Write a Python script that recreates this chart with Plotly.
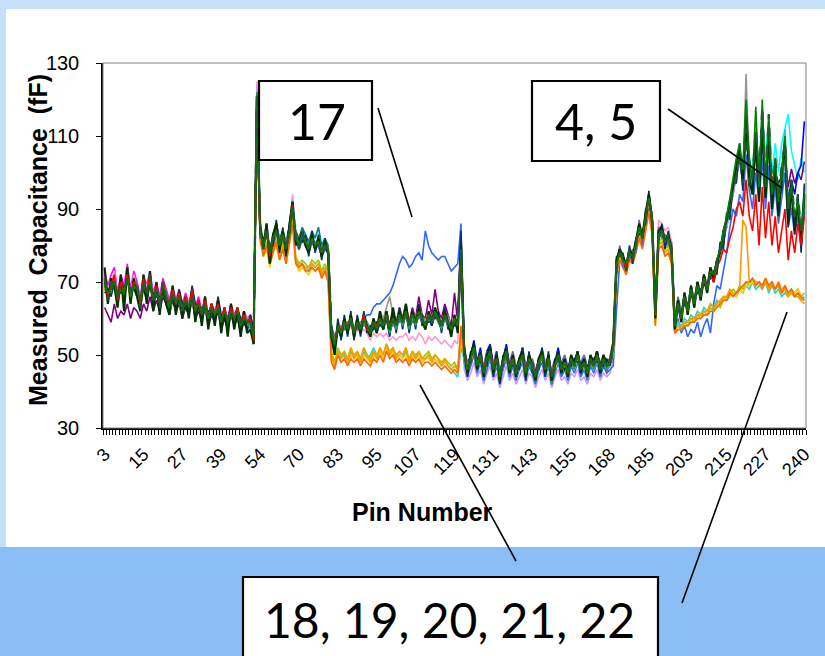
import plotly.graph_objects as go

# Pin numbers on the category axis (ground / unused pins are not measured)
PINS = (list(range(3, 40))
        + [40, 41, 42, 43, 44, 45, 47, 48, 50, 51, 53]
        + [54, 55, 56, 58, 59, 61, 62, 64, 65, 67, 68, 69]
        + [70, 71, 72, 73, 74, 75, 77, 78, 79, 80, 81, 82]
        + list(range(83, 156))
        + [156, 157, 158, 159, 160, 161, 163, 164, 165, 166, 167]
        + [168, 169, 170, 171, 173, 174, 176, 177, 179, 180, 182, 183]
        + [185, 186, 187, 189, 190, 192, 193, 195, 196, 198, 199, 201]
        + list(range(203, 228))
        + [228, 229, 230, 231, 232, 233, 235, 236, 237, 238, 239, 240])
LABEL_EVERY = 12


def series(text):
    return [int(v) for v in text.split()]


# Measured capacitance per pin (fF), one list per chip
CHIP_01 = series("""
71 68 68 72 66 70 66 73 67 71 69 65 71 66 72 66 69 63 70 67 64 68 63 67 63 66 62 68 63 65 62 64 61 64 60 65 60 63 58 62 61 61 59 60 58 59
54 119
83 81 84 78 81 86 79 84 80 83 90 83 81 82 82 80 83 79 82 79 81 78
57 54 57 57 58 58 59 57 58 58 61 57 57 58 58 61 57 62 58 59 59 60 60 61 59 62 58 63 59 59 60 60 61 61 57 62 58 58 59 59 77
51 47 50 53 46 51 46 48 52 47 50 45 49 52 47 48 46 49 51 46 50 46 45 49 51 47 48 45 48 51 45 49 46 48 48 51 45 49 46 48 48 51 47 48 46 49 53
75 79 75 75 79 76 81 86 81 89 92 86 63 84 83 82 81 80 59 65 61 65 63 67 65 68 67 70 69 72 72 76 77 83 85 91 94 101 103 99 112 101 95 109 93 113 94 111 91 101 89 99 105 89 93 87 89 83 91
""")
CHIP_02 = series("""
73 69 72 74 67 72 69 75 68 73 70 66 72 69 73 67 70 66 71 68 65 69 65 68 64 67 64 68 63 66 62 66 61 64 62 65 60 63 60 64 61 63 59 62 60 61
56 123
85 79 86 78 83 84 81 82 78 85 92 81 79 84 80 78 81 81 80 77 79 80
55 52 57 55 60 56 61 55 60 56 59 57 55 60 56 59 57 60 56 61 57 62 58 61 57 60 58 61 59 57 62 58 61 59 57 60 58 56 61 57 76
49 45 48 51 48 49 44 50 50 45 48 43 47 50 45 50 44 47 49 44 48 48 43 47 49 45 50 43 46 49 47 47 44 50 46 49 47 47 44 50 46 49 45 50 46 47 51
73 77 77 73 77 78 79 84 83 87 94 88 60 85 85 80 83 78 57 63 59 67 61 69 63 70 65 72 67 74 70 74 79 81 87 89 96 99 105 97 115 99 97 107 95 111 96 109 93 99 91 97 107 87 95 85 91 81 93
""")
CHIP_03 = series("""
69 65 70 70 64 68 68 71 65 69 67 63 69 68 70 64 67 65 68 65 62 66 65 65 61 64 64 66 61 63 60 66 59 62 62 63 58 61 60 62 59 63 57 60 60 59
56 120
83 81 84 76 81 84 81 82 80 83 90 81 81 82 80 80 81 79 80 79 79 78
57 53 59 57 58 56 61 57 58 58 59 59 55 60 58 59 59 60 58 59 57 62 58 61 59 60 60 61 61 57 60 60 61 59 59 60 58 56 61 57 79
51 45 50 51 48 49 46 48 52 45 50 45 47 52 45 50 46 47 51 44 50 46 45 47 51 45 48 45 46 51 45 49 44 50 46 51 45 49 44 50 46 51 45 50 46 49 51
73 79 75 75 77 78 79 86 81 87 92 88 62 82 85 80 83 78 59 63 61 65 63 67 65 68 67 70 67 74 70 76 77 81 87 89 96 99 103 99 113 99 97 107 95 111 94 109 93 99 91 99 105 89 95 85 91 83 91
""")
CHIP_04 = series("""
70 67 68 72 66 69 68 71 67 71 68 65 69 67 71 66 69 64 70 66 64 66 64 67 63 64 63 66 62 65 61 64 60 63 61 63 59 62 59 62 60 61 58 60 58 59
55 122
85 80 84 78 82 84 80 84 79 83 92 83 80 82 81 80 82 80 80 78 81 79
56 54 58 55 59 58 60 57 59 56 60 59 57 59 56 60 59 61 57 61 58 60 59 63 58 60 59 61 60 59 61 58 62 61 58 60 59 58 60 57 80
50 47 49 51 47 51 45 49 50 46 48 44 49 51 47 49 45 49 50 45 48 47 44 49 50 46 48 44 47 49 46 49 45 48 47 49 46 48 46 49 47 50 46 48 47 48 53
76 78 76 74 78 77 80 85 82 88 93 87 62 83 84 81 82 79 58 64 60 66 62 68 64 69 66 71 68 73 71 75 78 83 87 92 97 102 106 100 116 104 100 112 100 116 104 114 100 108 100 108 112 116 106 102 98 104 100
""")
CHIP_05 = series("""
63 61 59 64 60 62 61 64 60 63 62 60 64 62 66 62 65 62 66 64 61 65 62 64 60 63 61 65 60 62 59 63 58 61 59 62 57 60 57 61 58 60 56 59 57 58
54 118
83 79 84 77 81 84 79 82 78 83 89 81 79 82 80 78 81 79 80 77 79 78
55 52 57 56 58 57 59 56 58 57 60 58 57 59 57 61 59 62 58 62 59 63 60 64 59 63 60 66 61 60 65 61 68 62 60 64 61 58 67 59 80
51 46 50 52 46 50 46 49 50 46 48 44 49 51 46 48 45 49 50 46 49 46 44 48 51 46 49 45 47 50 45 48 45 49 48 50 46 47 45 49 47 51 46 49 46 48 52
75 78 77 74 79 77 81 84 83 88 92 87 63 84 85 81 83 79 59 65 61 67 63 69 65 70 67 72 69 74 72 76 79 83 86 91 96 101 105 99 113 102 98 110 97 108 100 104 98 100 97 99 104 96 101 97 100 98 103
""")
CHIP_06 = series("""
70 66 70 70 66 68 68 71 67 69 69 64 71 67 70 66 68 65 68 67 63 68 64 67 62 66 63 68 62 65 61 66 60 64 61 65 59 63 59 64 60 63 58 62 59 61
56 121
84 80 84 78 82 85 81 83 79 84 90 82 81 83 81 80 82 80 81 79 80 79
57 53 58 57 59 57 61 56 59 58 60 58 56 60 57 60 59 61 57 60 59 61 60 62 58 61 60 62 61 58 61 60 62 60 58 61 60 57 60 58 77
50 46 50 52 47 51 45 49 51 47 49 44 48 52 46 49 46 48 50 45 49 48 44 48 50 47 49 44 48 50 46 48 46 49 47 50 47 48 45 49 48 50 46 49 48 48 52
74 77 76 73 78 76 80 84 82 87 93 86 61 82 84 80 82 78 58 63 60 65 62 67 64 68 66 70 68 72 71 74 78 81 86 89 95 99 104 97 113 99 96 107 94 111 95 109 92 99 90 97 105 88 93 86 89 82 91
""")
CHIP_07 = series("""
69 67 68 71 64 70 66 72 65 71 67 65 69 68 70 66 67 65 68 67 62 68 63 67 61 66 62 67 61 65 60 65 59 64 60 64 58 63 58 63 59 62 57 61 58 60
55 120
85 81 86 78 83 86 82 84 81 85 90 84 82 85 83 81 84 82 85 80 82 80
55 52 57 55 58 56 59 55 58 56 59 57 55 58 56 59 57 60 56 59 57 60 58 61 57 60 58 61 59 57 60 58 61 59 57 60 58 56 59 57 76
49 45 48 51 46 49 44 48 50 45 48 43 47 50 45 48 44 47 49 44 48 46 43 47 49 45 48 43 46 49 45 47 44 48 46 49 45 47 44 48 46 49 45 48 46 47 51
75 79 77 75 79 78 81 86 83 89 94 88 62 84 85 82 83 80 59 65 61 67 63 69 65 70 67 72 69 74 72 76 79 83 87 91 96 101 105 99 115 101 97 109 95 113 96 111 93 101 91 99 107 89 95 87 91 83 93
""")
CHIP_08 = series("""
71 66 70 71 66 69 67 73 66 70 69 64 70 68 71 65 69 64 69 66 64 67 65 66 62 66 63 68 62 64 62 65 60 64 61 64 60 62 59 63 60 62 59 61 58 60
53 119
83 80 85 76 82 84 80 83 79 84 91 82 80 83 81 79 82 80 81 78 80 79
57 54 58 55 59 56 60 57 59 56 61 58 57 59 58 60 58 62 57 60 59 61 59 63 58 61 60 62 60 59 61 58 62 61 58 60 59 57 61 58 79
52 47 50 54 48 52 46 51 53 47 50 45 49 53 47 50 46 49 52 46 50 48 45 49 51 47 50 45 48 52 47 49 46 50 48 51 47 49 46 50 48 51 47 50 48 49 53
75 77 76 75 78 78 80 86 82 88 92 87 62 83 85 81 82 80 58 65 60 67 62 68 65 69 66 72 68 74 71 76 78 83 86 91 95 101 104 99 114 101 96 109 94 111 95 109 92 101 90 98 104 92 98 94 100 102 114
""")
CHIP_09 = series("""
70 65 69 72 65 70 67 72 67 70 68 63 70 67 72 65 68 64 70 65 63 67 64 67 62 65 63 66 62 64 61 64 60 63 61 63 59 62 58 63 59 62 58 60 59 59
55 122
84 79 85 77 82 85 80 83 78 84 92 82 80 82 81 78 82 80 81 77 80 78
56 53 58 56 60 57 60 56 60 57 60 58 56 59 57 60 58 61 57 61 58 61 59 62 58 61 59 62 60 58 61 59 62 60 59 61 59 57 61 58 81
49 46 50 51 47 49 45 50 51 46 48 44 48 52 46 48 45 49 50 44 49 47 45 48 49 46 50 44 47 51 46 48 44 49 47 51 46 47 45 48 47 50 45 49 47 47 51
73 78 75 74 77 77 79 85 81 88 92 87 60 83 83 81 81 79 57 64 59 66 61 68 63 69 65 71 67 73 70 75 77 82 85 90 94 100 103 98 112 100 95 108 93 112 94 110 91 100 89 98 112 88 96 86 92 80 96
""")
CHIP_13 = series("""
71 66 68 71 66 70 67 71 66 71 68 65 70 66 71 65 68 63 69 66 63 66 64 66 62 64 63 66 62 64 61 65 60 62 61 64 59 61 59 63 59 62 58 61 59 60
56 121
84 81 85 78 82 84 80 83 80 84 90 82 80 83 81 79 82 80 81 78 80 79
57 53 58 56 59 57 59 56 59 57 60 58 56 59 57 60 58 60 57 60 58 61 59 61 58 61 59 62 60 58 61 59 61 60 58 61 59 57 60 58 77
51 46 49 52 47 50 46 49 51 46 49 45 48 51 46 49 45 48 50 46 49 47 44 48 50 46 49 45 47 50 46 48 45 49 47 50 46 48 45 49 47 50 46 49 47 48 52
75 78 76 75 78 77 81 85 82 88 93 88 62 83 85 81 82 79 59 64 61 66 62 68 64 69 67 71 68 73 71 75 78 82 86 90 95 100 104 98 110 102 96 106 96 108 97 106 94 100 92 98 102 90 94 88 92 86 96
""")
CHIP_14 = series("""
72 67 70 73 65 71 67 74 66 72 68 66 70 69 71 67 68 65 69 67 63 68 64 67 62 66 63 67 63 64 62 65 61 63 61 65 59 63 59 63 61 62 58 62 59 61
57 125
85 80 84 79 82 85 81 83 80 84 94 82 81 83 81 80 82 80 81 79 80 79
56 53 57 55 58 56 58 55 57 56 57 56 54 56 55 56 55 56 54 55 54 55 55 56 54 55 54 56 55 53 55 54 55 54 53 54 53 52 54 53 74
50 47 49 52 48 50 45 49 51 47 49 44 48 51 46 49 45 48 50 46 49 47 44 48 50 46 49 44 47 50 46 48 45 49 47 50 46 48 45 49 47 50 46 49 47 48 52
76 79 77 75 79 78 82 86 84 89 94 88 63 87 86 84 85 81 60 65 61 67 63 69 65 70 67 72 69 74 72 76 79 83 87 91 96 101 105 99 116 101 97 109 95 113 96 111 93 101 91 99 107 89 95 87 91 83 93
""")
CHIP_15 = series("""
69 66 69 70 66 69 66 71 66 70 67 64 70 66 70 65 67 64 68 66 62 66 64 65 62 64 62 66 61 64 60 64 59 63 60 64 58 62 58 62 59 61 57 61 58 59
55 124
84 80 85 78 82 85 80 83 79 84 93 82 80 83 81 79 82 80 81 78 80 79
56 53 58 56 58 57 59 56 59 57 59 58 56 59 57 59 58 60 57 60 58 60 59 61 58 60 59 61 60 58 60 59 61 60 58 60 59 57 60 58 75
46 43 45 48 44 46 42 45 47 43 45 41 44 47 43 45 42 44 46 42 45 44 41 44 46 43 45 41 44 46 43 44 42 45 44 46 43 44 42 45 44 46 43 45 44 45 49
73 77 75 73 77 76 79 84 81 87 92 86 60 82 83 80 81 78 57 63 59 65 61 67 63 68 65 70 67 72 70 74 77 81 85 89 94 99 103 97 113 99 95 107 93 111 94 109 91 99 89 97 105 87 93 85 89 81 91
""")
CHIP_16 = series("""
68 65 68 70 64 68 66 70 65 69 67 63 69 66 70 64 67 63 68 65 62 66 63 65 61 64 62 66 61 63 60 64 59 62 60 63 58 61 58 62 59 61 57 60 58 59
55 120
83 79 84 77 81 84 79 82 78 83 90 81 79 82 80 78 81 79 80 77 79 78
57 54 59 57 60 58 61 57 60 58 61 59 57 60 58 61 59 62 58 61 59 62 60 63 59 62 60 63 61 59 62 60 63 61 59 62 60 58 61 59 79
50 47 49 51 47 51 45 49 50 46 50 44 49 51 46 48 45 48 51 45 49 47 45 48 50 47 49 44 48 50 46 49 45 49 47 49 46 48 46 49 47 50 47 49 47 49 52
75 79 77 75 79 78 81 84 83 87 92 86 62 82 85 80 83 78 59 63 61 65 63 67 65 68 67 70 69 72 72 74 79 81 87 89 96 99 105 97 115 99 97 107 95 111 96 109 93 99 91 97 107 87 95 85 91 81 93
""")
CHIP_17 = series("""
69 66 68 71 65 68 66 72 66 69 67 64 69 66 70 65 67 63 68 65 62 66 63 65 61 64 62 66 61 63 60 64 59 62 60 63 58 61 58 62 59 61 57 60 57 58
53 119
83 79 84 76 81 84 79 82 78 83 90 81 79 82 80 78 81 79 80 77 79 78
56 54 58 56 59 57 60 57 59 58 60 61 61 63 64 64 65 66 67 69 72 75 77 76 74 75 77 78 76 84 80 78 77 76 77 77 75 73 74 75 86
48 44 47 50 45 48 43 46 49 44 47 42 46 49 44 47 43 46 48 43 47 45 42 46 48 44 47 42 45 48 44 46 43 47 45 48 44 46 43 47 45 48 44 47 45 46 47
62 76 75 73 77 76 79 84 81 87 92 86 60 82 83 80 81 78 57 60 56 58 55 57 56 59 55 58 60 56 64 69 68 73 78 85 90 88 94 92 105 95 90 100 92 104 90 102 88 96 86 93 100 85 90 83 88 80 90
""")
CHIP_18 = series("""
70 66 69 70 65 69 67 71 66 70 68 64 69 67 70 65 68 64 68 66 63 66 64 66 62 64 63 66 62 64 61 64 60 63 61 63 59 62 59 62 60 61 58 60 58 59
54 117
82 78 80 75 79 81 77 80 76 81 87 76 74 75 74 73 75 74 75 72 74 71
50 47 51 49 50 48 51 49 50 48 51 49 50 52 50 51 49 52 50 51 49 50 49 51 48 50 49 50 48 49 50 48 49 48 47 48 47 46 45 44 52
49 45 48 51 46 49 44 48 50 45 48 43 47 50 45 48 44 47 49 44 48 46 43 47 49 45 48 43 46 49 45 47 44 48 46 49 45 47 44 48 46 49 45 48 46 47 51
73 77 75 73 77 76 79 83 80 85 90 84 60 80 81 78 79 76 57 59 58 60 59 61 60 62 61 63 62 64 63 65 64 66 65 66 67 66 68 67 69 68 70 68 69 68 70 67 69 67 68 66 67 66 67 66 67 65 66
""")
CHIP_19 = series("""
71 67 69 71 66 69 68 72 67 70 68 65 70 67 71 66 68 64 69 66 64 67 64 67 62 65 63 67 62 65 61 65 60 63 61 64 59 62 59 63 60 62 58 61 59 59
55 118
83 78 81 76 80 82 78 81 77 82 88 77 75 76 75 74 76 75 76 73 75 73
51 48 52 50 51 49 52 50 51 49 52 50 49 51 50 52 50 53 51 52 50 51 50 52 49 51 50 51 49 50 51 49 50 49 48 49 48 47 48 46 54
50 46 49 52 47 50 45 49 51 46 49 44 48 51 46 49 45 48 50 45 49 47 44 48 50 46 49 44 47 50 46 48 45 49 47 50 46 48 45 49 47 50 46 49 47 48 51
74 77 76 74 77 77 79 84 81 86 91 85 59 81 82 79 80 77 56 58 57 59 58 60 59 61 60 62 61 63 62 64 63 65 66 67 68 67 69 68 70 69 71 69 70 68 71 68 70 68 69 67 68 66 68 67 68 66 67
""")
CHIP_20 = series("""
69 65 68 70 64 68 66 71 65 69 67 63 69 66 70 64 67 63 68 65 62 66 63 65 61 64 62 66 61 63 60 64 59 62 60 63 58 61 58 62 59 61 57 60 58 58
54 116
81 77 79 74 78 80 76 79 75 80 86 75 73 74 73 72 74 73 74 71 73 70
49 47 50 48 49 48 50 49 50 48 50 49 48 50 49 51 49 52 50 51 49 50 49 50 48 50 49 50 48 49 49 48 49 48 47 48 47 46 46 45 55
49 46 48 51 47 49 45 48 50 46 48 44 47 50 46 48 45 47 49 45 48 47 44 47 49 46 48 44 46 49 46 47 45 48 47 49 46 47 45 48 47 49 46 48 47 47 50
72 76 74 72 76 75 78 82 80 85 89 83 58 79 80 77 78 75 56 57 57 58 58 59 59 60 60 61 61 62 62 63 64 65 66 66 67 66 68 67 69 69 70 69 70 69 71 69 70 68 70 68 69 67 68 67 68 66 65
""")
CHIP_21 = series("""
69 66 70 70 66 68 67 71 67 69 68 65 69 67 70 66 67 64 68 67 63 66 65 65 62 64 63 66 62 63 61 64 60 62 61 63 59 61 59 62 60 61 58 60 59 59
55 119
82 78 80 76 79 81 77 80 76 81 87 76 75 75 74 74 75 74 75 72 74 72
50 47 51 49 51 48 52 49 51 48 52 50 48 51 49 52 50 53 50 52 49 51 50 52 48 51 49 51 49 49 50 48 50 49 47 49 47 46 47 46 57
50 46 49 52 47 50 45 49 51 46 49 44 48 51 46 49 45 48 50 45 49 47 44 48 50 46 49 44 47 50 46 48 45 49 47 50 46 48 45 49 47 50 46 49 47 48 52
73 77 75 73 77 76 79 83 80 86 90 84 59 80 81 78 79 76 57 58 58 59 59 60 60 61 61 62 62 64 63 64 65 66 66 68 67 67 68 87 85 70 71 70 70 68 70 68 69 68 69 67 68 66 67 66 66 65 64
""")
CHIP_22 = series("""
70 66 68 71 65 69 66 72 66 70 67 64 70 66 71 65 67 64 69 65 63 67 63 66 62 65 62 67 62 64 60 65 60 63 60 64 59 62 58 63 59 62 58 61 58 59
53 118
82 77 80 75 78 81 76 79 75 80 86 75 74 75 73 73 74 73 74 71 73 70
48 46 50 48 49 47 49 48 49 47 49 48 47 49 48 50 48 51 49 50 48 49 48 49 47 49 48 49 47 48 48 47 48 47 46 47 46 45 46 45 58
49 46 49 51 47 50 45 48 51 46 49 44 48 50 46 49 45 48 50 45 48 47 44 48 50 46 49 44 47 50 46 48 45 48 47 50 46 48 45 49 47 50 46 49 47 48 51
72 76 74 72 76 75 78 82 79 84 89 83 58 79 80 77 78 75 56 57 57 58 58 59 59 60 60 61 61 62 62 63 64 65 65 67 66 67 68 69 70 70 71 69 70 69 71 69 70 68 70 67 69 67 68 66 67 66 65
""")
CHIP_23 = series("""
68 67 70 69 67 70 65 71 68 69 70 63 68 68 69 67 66 65 67 68 64 65 66 64 63 63 64 65 63 62 62 63 61 62 62 62 60 61 60 61 61 60 59 59 60 58
56 118
82 82 83 79 80 83 82 81 81 82 89 83 82 81 82 80 81 81 80 80 79 80
58 55 57 58 57 59 58 58 57 59 58 59 57 58 59 58 60 59 59 58 60 59 61 60 60 59 61 60 61 59 60 61 60 61 59 60 61 58 59 60 82
52 48 47 53 49 48 47 51 49 48 51 46 47 49 48 51 47 46 52 47 47 49 46 46 52 48 47 46 49 48 48 50 47 47 49 48 48 50 47 47 49 48 48 50 45 50 54
72 80 74 76 76 79 78 87 80 90 90 89 64 85 82 83 80 81 60 66 62 64 64 66 66 67 68 69 70 71 73 73 80 80 88 88 97 98 106 96 110 103 94 111 92 115 92 113 90 103 87 101 103 91 90 89 87 86 89
""")
CHIP_24 = series("""
71 66 70 71 65 70 67 72 67 70 69 64 70 68 71 66 68 65 69 66 64 67 64 67 62 65 64 67 62 65 61 65 61 63 61 64 60 62 59 63 61 62 58 61 60 60
56 120
84 81 84 77 83 85 81 83 80 84 90 82 81 83 82 79 82 81 81 79 80 79
57 54 58 57 60 58 61 57 60 58 61 59 57 60 58 62 60 63 66 61 59 62 60 62 59 62 60 62 60 59 61 60 62 60 59 61 60 58 60 59 79
50 47 49 51 47 50 46 49 50 46 49 45 48 51 47 49 45 48 50 46 49 47 45 48 50 46 49 45 47 50 46 48 45 49 47 50 46 48 45 49 47 50 46 49 47 48 52
75 78 77 74 78 78 80 85 83 88 93 88 62 84 84 82 82 80 59 64 61 66 63 68 65 69 67 71 69 73 72 75 79 82 87 90 96 100 105 98 127 100 97 108 95 112 96 110 93 100 91 98 106 89 94 87 90 83 92
""")
CHIP_25 = series("""
67 68 66 70 67 67 69 70 68 68 66 66 68 65 69 67 66 66 67 64 65 65 62 68 64 63 61 69 64 63 63 63 62 62 59 66 61 60 57 64 58 63 60 59 57 61
57 122
83 82 83 80 80 87 78 85 77 86 92 80 82 81 83 77 84 78 83 76 82 77
58 51 60 54 61 55 62 54 61 55 62 56 58 57 59 58 59 60 55 62 56 63 57 63 56 62 57 64 58 59 59 60 60 62 56 63 57 59 58 60 84
53 44 51 50 49 48 47 47 53 44 51 42 50 49 48 47 47 46 52 43 51 45 46 46 52 44 51 42 49 48 48 46 47 47 49 48 48 47 47 48 49 48 48 47 49 47 54
77 77 78 73 80 75 82 83 84 86 95 85 63 82 86 79 84 77 60 62 62 64 64 66 66 67 68 69 70 71 73 72 81 79 89 87 98 97 108 95 118 97 99 105 97 109 98 107 95 97 93 95 109 85 98 83 94 78 97
""")
CHIP_26 = series("""
69 66 68 72 64 70 66 73 65 71 67 64 69 67 70 65 67 63 68 66 62 68 63 66 61 65 62 67 61 64 60 65 59 63 60 64 58 62 58 63 59 62 57 61 58 59
54 122
85 80 85 78 83 85 80 84 79 84 91 83 80 84 81 80 83 80 82 78 81 79
55 52 57 56 58 57 59 56 58 57 59 58 55 59 56 60 57 61 56 60 57 61 58 62 57 61 58 62 59 58 60 59 61 60 57 61 58 57 59 58 78
49 45 49 51 46 50 44 49 50 45 49 43 48 50 45 49 44 48 49 44 49 46 43 48 49 45 49 42 47 49 45 48 44 49 46 50 45 48 44 49 46 50 45 49 46 48 51
74 79 76 75 78 78 80 86 82 89 93 88 61 84 84 82 82 80 58 65 60 67 62 69 64 70 66 72 68 74 71 76 78 83 86 91 95 101 104 99 112 101 96 109 94 113 95 111 92 101 90 99 106 89 94 87 90 83 92
""")
CHIP_27 = series("""
74 64 71 69 63 72 62 74 64 71 66 62 72 64 73 62 70 61 70 64 61 69 61 67 60 66 60 68 59 65 58 66 57 64 58 65 56 63 55 64 57 62 55 62 56 57
53 121
86 79 86 75 83 86 79 84 78 85 92 81 80 84 80 78 83 79 82 77 81 78
55 50 58 55 60 56 61 55 60 56 61 58 55 60 56 62 57 62 57 63 58 62 59 64 58 62 59 63 60 57 62 59 63 60 58 62 59 55 61 56 80
51 45 50 53 46 51 44 50 52 45 50 43 49 52 45 50 44 49 51 44 50 47 43 49 51 45 50 43 47 51 45 49 44 50 47 51 45 49 44 50 47 51 45 50 47 48 53
76 79 77 74 79 77 81 86 82 89 94 87 60 84 85 81 83 79 57 65 59 67 61 69 63 70 65 72 67 74 70 76 78 84 87 92 96 102 106 98 115 98 94 110 92 114 93 112 90 102 88 100 108 86 96 84 92 80 94
""")
CHIP_35 = series("""
70 66 69 72 65 70 67 72 66 70 69 64 71 67 72 65 69 64 70 66 64 68 64 67 62 66 63 68 62 65 61 65 60 64 61 64 59 63 59 63 60 63 58 61 59 60
54 120
84 80 84 77 82 84 80 83 79 83 91 82 80 83 81 79 82 80 81 78 80 79
57 53 58 57 59 58 60 56 59 57 61 57 56 59 58 60 58 61 58 60 58 61 59 62 59 61 59 62 60 58 61 59 61 60 58 61 59 57 60 58 77
51 46 49 52 47 50 46 49 51 47 49 44 48 51 47 49 45 48 50 46 49 47 45 48 50 46 49 45 47 50 46 48 45 49 47 50 46 48 45 49 47 50 46 49 47 48 52
75 78 76 74 78 77 80 85 82 88 93 87 61 83 84 81 82 79 58 64 60 66 62 68 64 69 66 71 68 72 70 74 76 79 78 82 85 90 92 88 98 88 84 94 80 96 82 92 80 88 78 84 90 76 84 78 86 80 88
""")
CHIP_41 = series("""
69 67 68 70 66 68 67 71 66 69 68 65 69 67 70 65 68 64 69 66 63 67 64 66 62 65 63 66 62 64 61 64 60 63 61 63 59 62 59 62 60 62 58 60 59 59
55 121
84 80 84 78 82 84 80 83 79 84 90 82 80 83 81 79 82 80 81 78 80 79
56 53 58 56 59 57 60 56 59 57 60 58 56 59 57 60 58 61 57 60 58 61 59 62 58 61 59 62 60 58 61 59 62 60 58 61 59 57 60 58 78
50 46 49 52 47 50 45 49 51 46 49 44 48 51 46 49 45 48 50 45 49 47 44 48 50 46 49 44 47 50 46 48 45 49 47 50 46 48 45 49 47 50 46 49 47 48 52
75 78 76 75 78 77 80 85 82 88 93 87 61 83 84 81 82 79 58 64 60 66 62 68 64 69 66 71 68 73 72 76 79 84 88 93 99 104 108 101 120 104 98 118 96 120 97 116 94 104 92 100 110 90 96 88 92 84 94
""")
CHIP_59 = series("""
71 65 70 70 66 68 68 71 67 69 69 63 71 66 72 64 69 63 70 65 64 66 65 65 63 64 64 66 63 63 62 64 61 62 62 63 60 61 60 62 61 61 59 60 60 59
55 120
85 79 84 78 83 84 81 82 80 83 91 83 79 84 80 80 81 81 80 79 79 80
57 54 57 57 58 58 59 57 58 58 59 59 57 58 58 59 59 60 58 59 59 60 60 61 59 60 60 61 61 59 60 60 61 61 59 60 60 58 59 59 79
49 47 48 51 48 49 46 48 50 47 48 45 47 50 47 48 46 47 49 46 48 48 45 47 49 47 48 45 46 49 47 47 46 48 48 49 47 47 46 48 48 49 47 48 48 47 51
74 78 77 73 79 76 81 84 83 87 92 88 62 82 85 80 83 78 59 63 61 65 63 67 65 68 67 70 69 72 72 74 79 81 87 89 96 99 105 97 112 96 99 112 98 118 96 116 96 104 94 102 108 90 98 88 94 84 90
""")

CHIPS = {
    1: CHIP_01, 2: CHIP_02, 3: CHIP_03, 4: CHIP_04, 5: CHIP_05, 6: CHIP_06,
    7: CHIP_07, 8: CHIP_08, 9: CHIP_09, 13: CHIP_13, 14: CHIP_14, 15: CHIP_15,
    16: CHIP_16, 17: CHIP_17, 18: CHIP_18, 19: CHIP_19, 20: CHIP_20,
    21: CHIP_21, 22: CHIP_22, 23: CHIP_23, 24: CHIP_24, 25: CHIP_25,
    26: CHIP_26, 27: CHIP_27, 35: CHIP_35, 41: CHIP_41, 59: CHIP_59,
}

COLORS = {
    1: "#000080", 2: "#FF00FF", 3: "#FFFF00", 4: "#00FFFF", 5: "#800080",
    6: "#800000", 7: "#008080", 8: "#0000FF", 9: "#00CCFF", 13: "#99CCFF",
    14: "#FF99CC", 15: "#CC99FF", 16: "#FFCC99", 17: "#3366FF",
    18: "#33CCCC", 19: "#99CC00", 20: "#FFCC00", 21: "#FF9900",
    22: "#FF6600", 23: "#666699", 24: "#969696", 25: "#003366",
    26: "#339966", 27: "#003300", 35: "#FF0000", 41: "#008000",
    59: "#1E5B2E",
}
LINE_WIDTH = {27: 2.2, 59: 2.2}
LINE_DASH = {59: "dash"}

# Page geometry (pixels) of the plotting area
W, H = 825, 656
PL, PR, PT, PB = 103, 806, 63, 428


def fx(x):
    return (x - PL) / (PR - PL)


def fy(y):
    return (PB - y) / (PB - PT)


xcats = [str(p) for p in PINS]
ticktext = [str(p) if i % LABEL_EVERY == 0 else "" for i, p in enumerate(PINS)]

fig = go.Figure()
for chip, vals in CHIPS.items():
    assert len(vals) == len(PINS), (chip, len(vals))
    fig.add_trace(go.Scatter(
        x=xcats, y=vals, mode="lines", name=f"Chip {chip}",
        line=dict(color=COLORS[chip], width=LINE_WIDTH.get(chip, 1.6),
                  dash=LINE_DASH.get(chip, "solid")),
        showlegend=False, hoverinfo="skip",
    ))

AX_FONT = dict(family="Arial, Liberation Sans, sans-serif", color="black")

fig.update_xaxes(
    type="category", range=[-0.5, len(PINS) - 0.5],
    tickmode="array", tickvals=xcats, ticktext=ticktext, tickson="boundaries",
    ticks="outside", ticklen=5, tickwidth=1, tickcolor="black",
    tickangle=-45, tickfont=dict(size=18, **AX_FONT), ticklabelstandoff=7,
    showline=True, linecolor="black", linewidth=1.5,
    showgrid=False, zeroline=False,
)
fig.update_yaxes(
    range=[30, 130], tick0=30, dtick=20,
    ticks="outside", ticklen=5, tickwidth=1, tickcolor="black",
    tickfont=dict(size=20, **AX_FONT), ticklabelstandoff=13,
    showline=True, linecolor="black", linewidth=1.5,
    showgrid=False, zeroline=False,
)

shapes = [
    # slide background: light strip, white panel
    dict(type="rect", xref="paper", yref="paper", layer="below",
         x0=fx(0), x1=fx(W), y0=fy(547), y1=fy(0),
         fillcolor="#C6E0FA", line=dict(width=0)),
    dict(type="rect", xref="paper", yref="paper", layer="below",
         x0=fx(6), x1=fx(W), y0=fy(547), y1=fy(9),
         fillcolor="white", line=dict(width=0)),
    # plot frame
    dict(type="rect", xref="paper", yref="paper", layer="above",
         x0=0, x1=1, y0=0, y1=1, line=dict(color="#808080", width=1)),
]

# callout boxes and pointer lines
BOXES = [(259, 81, 372, 160), (532, 81, 660, 161), (243, 577, 658, 662)]
for x0, y0, x1, y1 in BOXES:
    shapes.append(dict(type="rect", xref="paper", yref="paper", layer="above",
                       x0=fx(x0), x1=fx(x1), y0=fy(y1), y1=fy(y0),
                       fillcolor="white", line=dict(color="black", width=2.2)))
POINTERS = [((378, 108), (412, 217)), ((668, 109), (782, 188)),
            ((420, 385), (516, 561)), ((787, 312), (682, 603))]
for (x0, y0), (x1, y1) in POINTERS:
    shapes.append(dict(type="line", xref="paper", yref="paper", layer="above",
                       x0=fx(x0), y0=fy(y0), x1=fx(x1), y1=fy(y1),
                       line=dict(color="black", width=1.6)))

CALLOUT_FONT = dict(family="Lato, Open Sans, sans-serif", size=50, color="black")
annotations = [
    dict(text="17", x=fx(317), y=fy(121), font=CALLOUT_FONT),
    dict(text="4, 5", x=fx(596), y=fy(121), font=CALLOUT_FONT),
    dict(text="18, 19, 20, 21, 22", x=fx(449), y=fy(619),
         font=dict(CALLOUT_FONT, size=48)),
    dict(text="<b>Pin Number</b>", x=fx(422), y=fy(512),
         font=dict(size=25, **AX_FONT)),
    dict(text="<b>Measured  Capacitance  (fF)</b>", x=fx(38), y=fy(240),
         textangle=-90, font=dict(size=25, **AX_FONT)),
]
for a in annotations:
    a.update(xref="paper", yref="paper", showarrow=False,
             xanchor="center", yanchor="middle")

fig.update_layout(
    width=W, height=H,
    margin=dict(l=PL, r=W - PR, t=PT, b=H - PB),
    paper_bgcolor="#8ABEF5", plot_bgcolor="white",
    shapes=shapes, annotations=annotations,
)

fig.write_html("out.html")
